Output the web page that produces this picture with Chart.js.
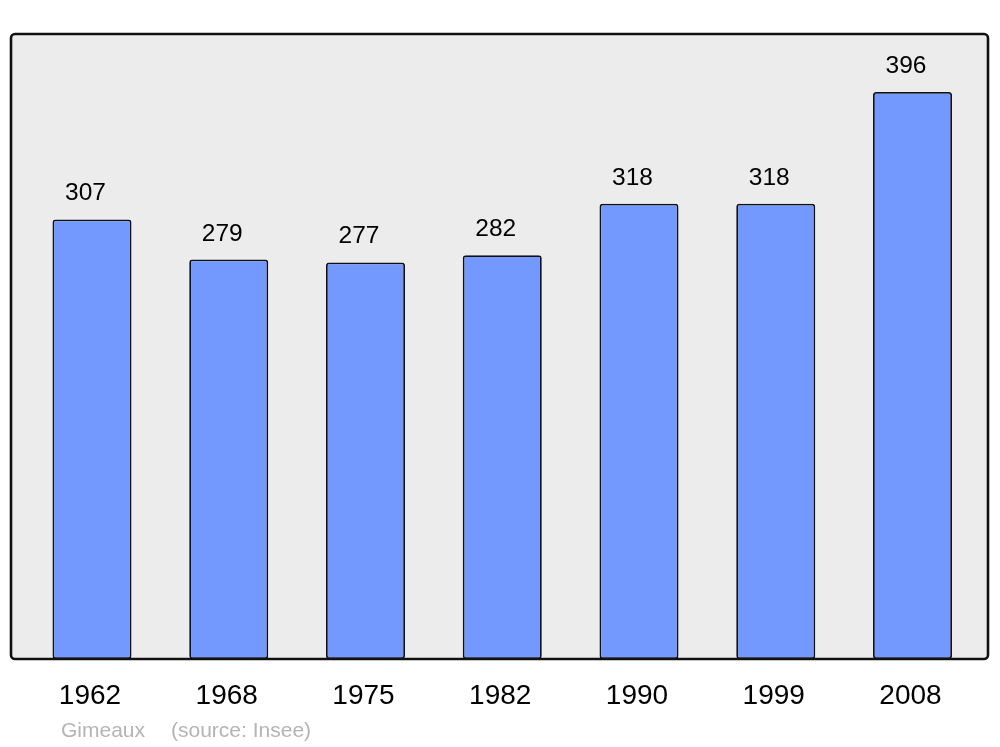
<!DOCTYPE html>
<html>
<head>
<meta charset="utf-8">
<script src="https://cdn.jsdelivr.net/npm/chart.js@4/dist/chart.umd.min.js"></script>
<style>
  html, body { margin: 0; padding: 0; background: #ffffff; }
  #wrap { width: 1000px; height: 747px; }
</style>
</head>
<body>
<div id="wrap"><canvas id="c" width="1000" height="747"></canvas></div>
<script>
const years = ["1962", "1968", "1975", "1982", "1990", "1999", "2008"];
const population = [307, 279, 277, 282, 318, 318, 396];
const commune = "Gimeaux";
const sourceText = "(source: Insee)";

const points = population.map((v, i) => ({ x: i, y: v }));

const framePlugin = {
  id: 'frame',
  beforeDatasetsDraw(chart) {
    const { ctx, chartArea: a } = chart;
    ctx.save();
    ctx.beginPath();
    ctx.roundRect(a.left, a.top, a.right - a.left, a.bottom - a.top, 4);
    ctx.fillStyle = '#ececec';
    ctx.fill();
    ctx.restore();
  },
  afterDatasetsDraw(chart) {
    const { ctx, chartArea: a } = chart;
    ctx.save();
    ctx.beginPath();
    ctx.roundRect(a.left, a.top, a.right - a.left, a.bottom - a.top, 4);
    ctx.lineWidth = 2.6;
    ctx.strokeStyle = '#111111';
    ctx.stroke();
    // value labels
    const meta = chart.getDatasetMeta(0);
    ctx.fillStyle = '#000000';
    ctx.font = '24.5px "Liberation Sans", Arial, sans-serif';
    ctx.textAlign = 'center';
    ctx.textBaseline = 'alphabetic';
    meta.data.forEach((bar, i) => {
      ctx.fillText(String(population[i]), bar.x - 6.5, bar.y - 19);
    });
    // source line
    ctx.fillStyle = '#b4b4b4';
    ctx.font = '21px "Liberation Sans", Arial, sans-serif';
    ctx.textAlign = 'left';
    ctx.fillText(commune, 61, 737);
    ctx.fillText(sourceText, 171, 737);
    ctx.restore();
  }
};

new Chart(document.getElementById('c'), {
  type: 'bar',
  data: {
    datasets: [{
      data: points,
      backgroundColor: '#7399ff',
      borderColor: '#111111',
      borderWidth: 1.8,
      borderRadius: 3,
      borderSkipped: false,
      categoryPercentage: 1,
      barPercentage: 0.578
    }]
  },
  options: {
    responsive: false,
    animation: false,
    layout: { padding: { left: 11, right: 12, top: 34, bottom: 0 } },
    plugins: { legend: { display: false }, tooltip: { enabled: false } },
    scales: {
      x: {
        type: 'linear',
        offset: false,
        min: -0.5923,
        max: 6.552,
        grid: { display: false, drawTicks: false, offset: false },
        border: { display: false },
        afterBuildTicks(scale) { scale.ticks = years.map((_, i) => ({ value: i })); },
        afterFit(scale) { scale.height = 88; },
        ticks: {
          autoSkip: false,
          maxRotation: 0,
          padding: 20,
          labelOffset: -2,
          color: '#000000',
          font: { family: '"Liberation Sans", Arial, sans-serif', size: 28 },
          callback: (v) => years[v] ?? ''
        }
      },
      y: {
        display: false,
        min: 0,
        max: 436.5
      }
    }
  },
  plugins: [framePlugin]
});
</script>
</body>
</html>
